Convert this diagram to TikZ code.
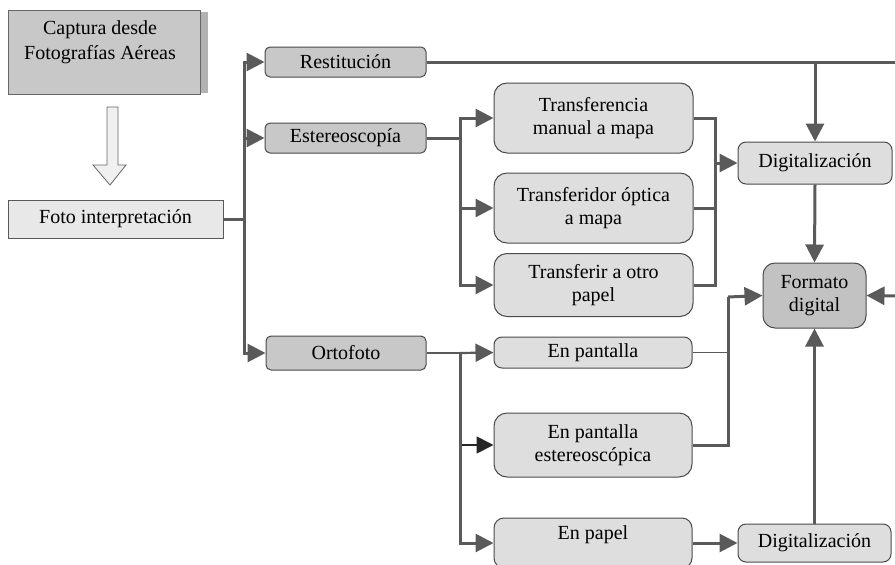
\documentclass[tikz,border=0pt]{standalone}
\usepackage{fontspec}
\setmainfont{Liberation Serif}
\usetikzlibrary{arrows.meta}
\definecolor{ln}{HTML}{5A5A5A}
\definecolor{bd}{HTML}{4A4A4A}
\definecolor{fdark}{HTML}{C8C8C8}
\definecolor{flight}{HTML}{DEDEDE}
\definecolor{ffmt}{HTML}{C2C2C2}
\definecolor{ffoto}{HTML}{E8E8E8}
\tikzset{
  base/.style={draw=bd, line width=1pt, inner sep=0pt, align=center, font=\fontsize{20}{23}\selectfont},
  darkbox/.style={base, fill=fdark, rounded corners=5pt},
  lightbox/.style={base, fill=flight, rounded corners=13pt},
  digbox/.style={base, fill=flight, rounded corners=8pt},
  fmtbox/.style={base, fill=ffmt, rounded corners=12pt},
  conn/.style={draw=ln, line width=3pt},
  thinconn/.style={draw=ln, line width=1.6pt},
  arr/.style={conn, -{Triangle[length=18pt,width=18pt]}},
  blackarr/.style={draw=black!85, line width=1.8pt, -{Triangle[length=17pt,width=17pt]}},
}
\begin{document}
\begin{tikzpicture}[x=1pt,y=-1pt]
\useasboundingbox (0,0) rectangle (895,565);
% capture box with shadow
\fill[fill=black!30] (200,12) rectangle (208,93);
\node[base, fill=fdark, draw=black!60, minimum width=192, minimum height=84] (cap) at (104,52) {};
\node[font=\fontsize{20}{25}\selectfont, align=center] (captxt) at (100,42) {Captura desde\\Fotografías Aéreas};
% hollow arrow
\draw[draw=black!60, fill=black!6, line width=0.8pt] (107,107) -- (118,107) -- (118,165) -- (126,165) -- (110,185) -- (93,165) -- (107,165) -- cycle;
\node[base, fill=ffoto, draw=black!65, minimum width=215, minimum height=38] (foto) at (115.5,219) {Foto interpretación};

\node[darkbox, minimum width=161, minimum height=30] (rest) at (345.5,62) {Restitución};
\node[darkbox, minimum width=161, minimum height=30] (est) at (345.5,138) {Estereoscopía};
\node[darkbox, minimum width=160, minimum height=34] (orto) at (346,353) {Ortofoto};

\node[lightbox, minimum width=199, minimum height=70] (t1) at (593.5,118) {Transferencia\\manual a mapa};
\node[lightbox, minimum width=199, minimum height=70] (t2) at (593.5,208) {Transferidor óptica\\a mapa};
\node[lightbox, minimum width=199, minimum height=63] (t3) at (593.5,285) {Transferir a otro\\papel};

\node[digbox, minimum width=154, minimum height=42] (dig1) at (815,163) {Digitalización};
\node[fmtbox, minimum width=103, minimum height=65] (fmt) at (814.5,295.5) {Formato\\digital};

\node[lightbox, rounded corners=8pt, minimum width=198, minimum height=31] (ep1) at (593,352.5) {En pantalla};
\node[lightbox, minimum width=198, minimum height=64] (ep2) at (593,445) {En pantalla\\estereoscópica};
\node[lightbox, rounded corners=10pt, minimum width=198, minimum height=50] (ep3) at (593,543) {\raisebox{20pt}{En papel}};
\node[digbox, minimum width=153, minimum height=38] (dig2) at (814.5,543) {Digitalización};

% coordinates
\coordinate (j1) at (244,219);
\coordinate (j2) at (460,138);
\coordinate (j3) at (715,163);
\coordinate (j4) at (460,353);
\coordinate (j5) at (728,297);
\coordinate (rtop) at (815,62);
\coordinate (redge) at (897,62);
\coordinate (rin) at (897,296);

% connectors
\draw[conn] (foto.east) -- (j1);
\draw[arr] (j1) |- (rest.west);
\draw[arr] (j1) |- (est.west);
\draw[arr] (j1) |- (orto.west);

\draw[conn] (rest.east) -- (redge);
\draw[arr] (rtop) -- (dig1.north);

\draw[conn] (est.east) -- (j2);
\draw[arr] (j2) |- (t1.west);
\draw[arr] (j2) |- (t2.west);
\draw[arr] (j2) |- (t3.west);

\draw[conn] (t1.east) -| (j3);
\draw[conn] (t2.east) -| (j3);
\draw[conn] (t3.east) -| (j3);
\draw[arr] (j3) -- (dig1.west);

\draw[arr] (dig1.south) -- (fmt.north);
\draw[arr] (rin) -- (fmt.east);

\draw[thinconn] (orto.east) -- (j4);
\draw[arr, line width=2.2pt] (j4) -- (ep1.west);
\draw[blackarr] (j4) |- (ep2.west);
\draw[arr] (j4) |- (ep3.west);

\draw[thinconn] (ep1.east) -| (j5);
\draw[conn] (ep2.east) -| (j5);
\draw[arr] (j5) -- (fmt.west);

\draw[arr] (ep3.east) -- (dig2.west);
\draw[arr] (dig2.north) -- (fmt.south);
\end{tikzpicture}
\end{document}
